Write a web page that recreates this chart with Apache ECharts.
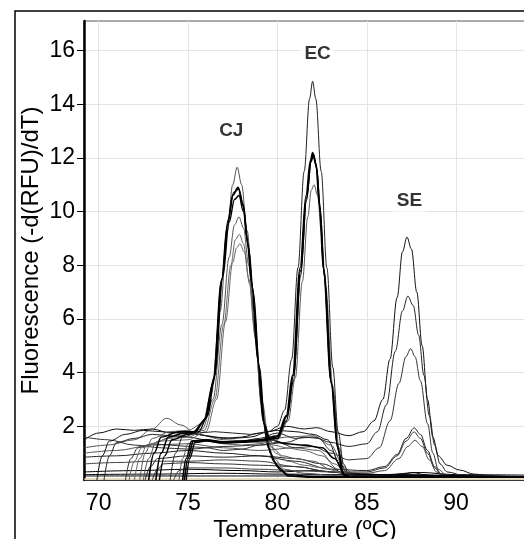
<!DOCTYPE html>
<html><head><meta charset="utf-8">
<script src="https://cdn.jsdelivr.net/npm/echarts@6/dist/echarts.min.js"></script>
<style>html,body{margin:0;padding:0;background:#fff}#c{width:524px;height:539px}</style>
</head><body><div id="c"></div>
<script>
// ---- tick values ----
const xTicks = [70, 75, 80, 85, 90];
const yTicks = [2, 4, 6, 8, 10, 12, 14, 16];
// ---- peak labels ----
const peakNames = ['CJ', 'EC', 'SE'];
const peakLabelT = [77.42, 82.25, 87.39];
const peakLabelV = [13.02, 15.88, 10.42];

// ---- curves: [temperature, -d(RFU)/dT] ----
// SE samples
const SE1 = [[69.9,0],[70.2,0.9],[70.6,1.45],[71.5,1.7],[72.5,1.85],[73.5,1.8],[74.5,1.75],[75.5,1.7],[76.5,1.6],[77.5,1.55],[78.5,1.6],[79.5,1.8],[80.5,2.0],[81.5,1.9],[82.2,1.95],[83,1.8],[84,1.65],[84.8,1.8],[85.4,2.2],[85.9,3.0],[86.3,4.5],[86.7,6.8],[87.0,8.5],[87.25,9.05],[87.5,8.6],[87.8,7.0],[88.1,5.0],[88.4,3.0],[88.7,1.6],[89.0,0.9],[89.5,0.55],[90.2,0.37],[91,0.22],[92,0.15],[94,0.12]];
const SE2 = [[70.3,0],[70.6,0.9],[71,1.4],[72,1.55],[73,1.7],[74,1.65],[75,1.6],[76,1.5],[77,1.4],[78,1.45],[79,1.55],[80,1.75],[81,1.55],[82,1.6],[83,1.4],[84,1.25],[85,1.35],[85.6,1.8],[86.1,2.8],[86.6,4.8],[87.0,6.3],[87.3,6.85],[87.6,6.5],[87.9,5.4],[88.2,3.9],[88.5,2.4],[88.8,1.3],[89.1,0.6],[89.5,0.3],[90.5,0.15],[94,0.1]];
const SE3 = [[71.5,0],[71.8,0.8],[72.2,1.2],[73,1.35],[74,1.3],[75,1.25],[76,1.2],[77,1.1],[78,1.15],[79,1.3],[80,1.4],[81,1.2],[82,1.25],[83,1.0],[84,0.75],[85,0.8],[85.7,1.2],[86.3,2.2],[86.8,3.6],[87.2,4.6],[87.45,4.89],[87.7,4.6],[88.0,3.7],[88.4,2.1],[88.7,1.0],[89.0,0.4],[89.5,0.15],[94,0.1]];
const SP1 = [[72.6,0],[72.9,0.5],[73.3,0.8],[75,0.9],[77,0.85],[79,0.9],[81,0.7],[83,0.4],[85,0.35],[86,0.5],[86.7,0.95],[87.2,1.55],[87.65,1.94],[88.0,1.7],[88.4,1.1],[88.8,0.5],[89.2,0.2],[90,0.12],[94,0.1]];
const SP2 = [[73.0,0],[73.3,0.4],[73.6,0.6],[75,0.65],[77,0.6],[79,0.55],[81,0.5],[83,0.3],[85,0.3],[86,0.45],[86.7,0.9],[87.2,1.45],[87.65,1.79],[88.0,1.55],[88.4,1.0],[88.8,0.45],[89.2,0.15],[94,0.1]];
const SP3 = [[74.2,0],[74.5,0.35],[75,0.45],[77,0.45],[79,0.4],[81,0.35],[83,0.3],[85,0.25],[86,0.35],[86.8,0.8],[87.3,1.25],[87.7,1.48],[88.1,1.25],[88.5,0.75],[88.9,0.3],[89.3,0.12],[94,0.1]];
const SP4 = [[69.2,0.15],[78,0.15],[84,0.15],[86,0.15],[87,0.22],[87.6,0.28],[88.2,0.2],[89,0.12],[94,0.1]];
// CJ samples
const CJ1 = [[72.3,0],[72.6,1.0],[73,1.55],[74,1.8],[75,1.85],[75.8,2.1],[76.3,3.2],[76.8,6.3],[77.2,9.3],[77.5,11.0],[77.75,11.65],[78.0,11.0],[78.3,9.3],[78.7,6.3],[79.1,2.8],[79.4,1.5],[79.8,0.8],[80.4,0.4],[81.5,0.25],[83,0.18],[94,0.12]];
const CJ2 = [[72.8,0],[73.1,1.0],[73.5,1.6],[74.5,1.8],[75.3,1.8],[75.9,2.2],[76.4,3.6],[76.87,7.4],[77.2,9.5],[77.5,10.6],[77.8,10.9],[78.07,10.3],[78.3,9.0],[78.55,7.4],[78.9,4.5],[79.2,2.2],[79.5,1.2],[79.8,0.7],[80.2,0.35],[80.6,0.15],[82,0.1],[94,0.1]];
const CJ3 = [[73.2,0],[73.5,1.0],[73.9,1.6],[74.8,1.75],[75.4,1.8],[76.0,2.3],[76.45,3.8],[76.9,7.5],[77.25,9.7],[77.55,10.7],[77.82,10.85],[78.1,10.2],[78.35,8.8],[78.6,7.2],[78.95,4.3],[79.25,2.1],[79.6,1.5],[80.5,1.35],[81.5,1.3],[82.5,1.2],[83.2,0.8],[83.8,0.2],[94,0.1]];
const CJ4 = [[73.4,0],[73.7,0.9],[74.1,1.5],[75,1.7],[75.6,1.8],[76.1,2.4],[76.5,3.9],[76.95,7.6],[77.3,9.6],[77.6,10.45],[77.85,10.6],[78.1,10.0],[78.4,8.6],[78.65,7.0],[79.0,4.2],[79.3,2.0],[79.6,1.0],[80.0,0.5],[80.6,0.2],[82,0.12],[94,0.1]];
const CJ5 = [[72.5,0],[72.8,0.8],[73.2,1.4],[74,1.6],[75,1.7],[75.8,1.9],[76.4,3.0],[76.9,5.8],[77.3,8.3],[77.6,9.5],[77.85,9.8],[78.1,9.4],[78.4,8.0],[78.7,5.8],[79.1,3.0],[79.4,1.7],[79.7,1.2],[80.3,0.9],[81,0.8],[82,0.7],[83,0.4],[84,0.15],[94,0.1]];
const CJ6 = [[72.0,0],[72.3,0.8],[72.7,1.3],[74,1.55],[75,1.6],[75.9,1.85],[76.5,3.0],[77.0,5.8],[77.4,8.0],[77.65,8.95],[77.88,9.15],[78.1,8.8],[78.4,7.5],[78.75,5.4],[79.1,3.0],[79.45,1.7],[79.8,1.3],[80.5,1.2],[81.5,1.1],[82.5,0.9],[83.4,0.4],[84,0.15],[94,0.1]];
const CJ7 = [[71.7,0],[72.0,0.7],[72.4,1.2],[73.5,1.45],[75,1.5],[76,1.8],[76.6,3.0],[77.1,5.9],[77.5,8.1],[77.72,8.65],[77.9,8.8],[78.15,8.5],[78.45,7.3],[78.8,5.2],[79.15,2.9],[79.5,1.6],[79.9,1.0],[80.6,0.7],[81.5,0.55],[82.5,0.45],[84,0.2],[94,0.1]];
// EC samples
const EC1 = [[74.0,0],[74.3,1.0],[74.7,1.6],[75.5,1.75],[76.5,1.8],[77.5,1.75],[78.5,1.7],[79.5,1.8],[80,2.0],[80.4,2.6],[80.8,4.5],[81.15,7.9],[81.5,11.5],[81.8,14.2],[81.97,14.85],[82.15,14.2],[82.45,11.5],[82.77,7.9],[83.1,4.2],[83.4,1.8],[83.7,0.6],[84.0,0.2],[85,0.12],[94,0.1]];
const EC2 = [[74.7,0],[74.9,0.8],[75.2,1.45],[76,1.5],[77,1.42],[78,1.45],[79,1.5],[80,1.65],[80.5,2.4],[80.85,3.9],[81.27,7.9],[81.6,10.6],[81.85,11.9],[81.97,12.2],[82.15,11.8],[82.35,10.3],[82.57,7.9],[83.0,3.7],[83.35,1.3],[83.66,0.2],[84.2,0.1],[94,0.1]];
const EC3 = [[74.8,0],[75.0,0.8],[75.3,1.45],[76,1.48],[77,1.4],[78,1.42],[79,1.48],[80,1.6],[80.55,2.4],[80.9,3.9],[81.3,7.8],[81.63,10.5],[81.88,11.85],[82.0,12.1],[82.18,11.7],[82.38,10.2],[82.6,7.8],[83.02,3.6],[83.38,1.2],[83.7,0.2],[84.2,0.1],[94,0.1]];
const EC4 = [[74.9,0],[75.1,0.8],[75.4,1.4],[76,1.45],[77,1.38],[78,1.4],[79,1.45],[80,1.55],[80.5,2.2],[80.9,3.7],[81.3,7.6],[81.62,10.4],[81.9,11.95],[82.02,12.15],[82.2,11.6],[82.4,10.0],[82.62,7.6],[83.05,3.5],[83.4,1.1],[83.72,0.2],[84.2,0.1],[94,0.1]];
const EC5 = [[74.5,0],[74.7,0.8],[75.0,1.35],[76,1.45],[77,1.35],[78,1.3],[79,1.35],[80,1.5],[80.6,2.2],[81.0,3.8],[81.4,7.4],[81.7,9.8],[81.9,10.8],[82.05,11.0],[82.25,10.6],[82.45,9.3],[82.7,7.2],[83.1,3.5],[83.45,1.2],[83.8,0.25],[84.3,0.1],[94,0.1]];
// other wells (baseline noise)
const N1 = [[69.2,1.5],[70,1.75],[71,1.9],[72,1.85],[73,1.9],[74,1.75],[75,1.8],[76,1.65],[77,1.55],[78,1.6],[79,1.75],[80,1.85],[81,1.8],[82,1.7],[82.8,1.5],[83.5,0.6],[84,0.2],[85,0.12],[94,0.1]];
const N2 = [[69.2,1.2],[70.5,1.3],[72,1.5],[73,1.9],[73.8,2.3],[74.6,2.05],[75.5,1.7],[77,1.5],[79,1.4],[80.5,1.6],[82,1.65],[83,1.3],[83.7,0.5],[84.3,0.15],[94,0.1]];
const N3 = [[69.2,1.0],[71,1.1],[73,1.3],[75,1.35],[77,1.2],[79,1.1],[81,1.2],[82.3,1.1],[83.2,0.6],[84,0.15],[94,0.1]];
const N4 = [[69.2,0.85],[71,0.9],[73,1.0],[75,1.1],[77,1.0],[79,0.9],[81,0.8],[82.5,0.6],[84,0.2],[94,0.1]];
const N5 = [[69.2,0.6],[71,0.65],[73,0.7],[75,0.7],[77,0.75],[79,0.7],[81,0.5],[83,0.3],[85,0.15],[94,0.1]];
const N6 = [[69.2,0.3],[72,0.35],[75,0.4],[78,0.35],[80,0.3],[82,0.35],[84,0.25],[86,0.2],[88,0.28],[90,0.2],[94,0.18]];
const N7 = [[69.2,0.2],[73,0.22],[77,0.25],[80,0.22],[84,0.2],[94,0.12]];
const N8 = [[69.2,1.6],[70.5,1.5],[72,1.3],[73.5,1.2],[75,1.15],[77,1.25],[79,1.3],[80.5,1.4],[81.5,1.6],[82.3,1.55],[83,1.1],[83.7,0.3],[84.5,0.12],[94,0.1]];
const BASE = [[69.2,0.03],[94,0.03]];

const curves = [
  {d: N1, c: '#111', w: 1}, {d: N2, c: '#555', w: 1}, {d: N3, c: '#555', w: 1},
  {d: N4, c: '#222', w: 1}, {d: N5, c: '#444', w: 1}, {d: N6, c: '#000', w: 1},
  {d: N7, c: '#000', w: 1}, {d: N8, c: '#333', w: 1},
  {d: SP1, c: '#222', w: 1}, {d: SP2, c: '#333', w: 1}, {d: SP3, c: '#444', w: 1}, {d: SP4, c: '#000', w: 1},
  {d: SE1, c: '#111', w: 1}, {d: SE2, c: '#222', w: 1}, {d: SE3, c: '#333', w: 1},
  {d: CJ5, c: '#555', w: 1}, {d: CJ6, c: '#666', w: 1}, {d: CJ7, c: '#666', w: 1},
  {d: CJ1, c: '#555', w: 1}, {d: CJ2, c: '#000', w: 1.6}, {d: CJ3, c: '#000', w: 1.6}, {d: CJ4, c: '#000', w: 1.4},
  {d: EC5, c: '#555', w: 1}, {d: EC1, c: '#222', w: 1},
  {d: EC2, c: '#000', w: 1.6}, {d: EC3, c: '#000', w: 1.6}, {d: EC4, c: '#000', w: 1.4}
];

const FONT = 'Liberation Sans, Arial, sans-serif';
const series = [{
  type: 'line', data: BASE, showSymbol: false, silent: true,
  lineStyle: {color: '#e3d6b8', width: 2}, z: 1
}];
curves.forEach(function (cv) {
  series.push({
    type: 'line', data: cv.d, showSymbol: false, smooth: 0.35, smoothMonotone: 'x',
    clip: true, silent: true, lineStyle: {color: cv.c, width: cv.w}, z: 2
  });
});
series.push({
  type: 'scatter', symbolSize: 0, silent: true, z: 10,
  data: peakNames.map(function (n, i) { return {name: n, value: [peakLabelT[i], peakLabelV[i]]}; }),
  label: {show: true, position: 'inside', formatter: '{b}', color: '#000', fontSize: 19,
    fontWeight: 'bold', fontFamily: FONT, backgroundColor: '#fff', padding: [2, 4]}
});

const chart = echarts.init(document.getElementById('c'), null, {renderer: 'canvas'});
chart.setOption({
  animation: false,
  backgroundColor: '#fff',
  grid: {left: 84, right: -2, top: 21, bottom: 59, outerBoundsMode: 'none', containLabel: false,
    show: true, borderColor: '#555', borderWidth: 1, backgroundColor: 'transparent'},
  graphic: [{type: 'rect', shape: {x: 15, y: 11, width: 600, height: 600}, z: 100,
    style: {fill: 'none', stroke: '#000', lineWidth: 1.5}, silent: true}],
  xAxis: {
    type: 'value', min: 69.18, max: 93.91,
    name: 'Temperature (ºC)', nameLocation: 'middle', nameGap: 38, nameMoveOverlap: false,
    nameTextStyle: {fontSize: 24, color: '#000', fontFamily: FONT},
    axisLine: {show: true, onZero: false, lineStyle: {color: '#000', width: 2}},
    axisTick: {show: false, customValues: xTicks},
    axisLabel: {customValues: xTicks, fontSize: 23, color: '#000', margin: 12, fontFamily: FONT},
    splitLine: {show: true, lineStyle: {color: '#e4e4e4', width: 1}}
  },
  yAxis: {
    type: 'value', min: 0, max: 17.1,
    name: 'Fluorescence (-d(RFU)/dT)', nameLocation: 'middle', nameGap: 41, nameMoveOverlap: false,
    nameTextStyle: {fontSize: 24, color: '#000', fontFamily: FONT},
    axisLine: {show: true, lineStyle: {color: '#000', width: 2.5}},
    axisTick: {show: true, length: 7, customValues: yTicks, lineStyle: {color: '#000', width: 1}},
    axisLabel: {customValues: yTicks, fontSize: 23, color: '#000', margin: 9, fontFamily: FONT},
    splitLine: {show: true, lineStyle: {color: '#e4e4e4', width: 1}}
  },
  series: series
});
</script></body></html>
